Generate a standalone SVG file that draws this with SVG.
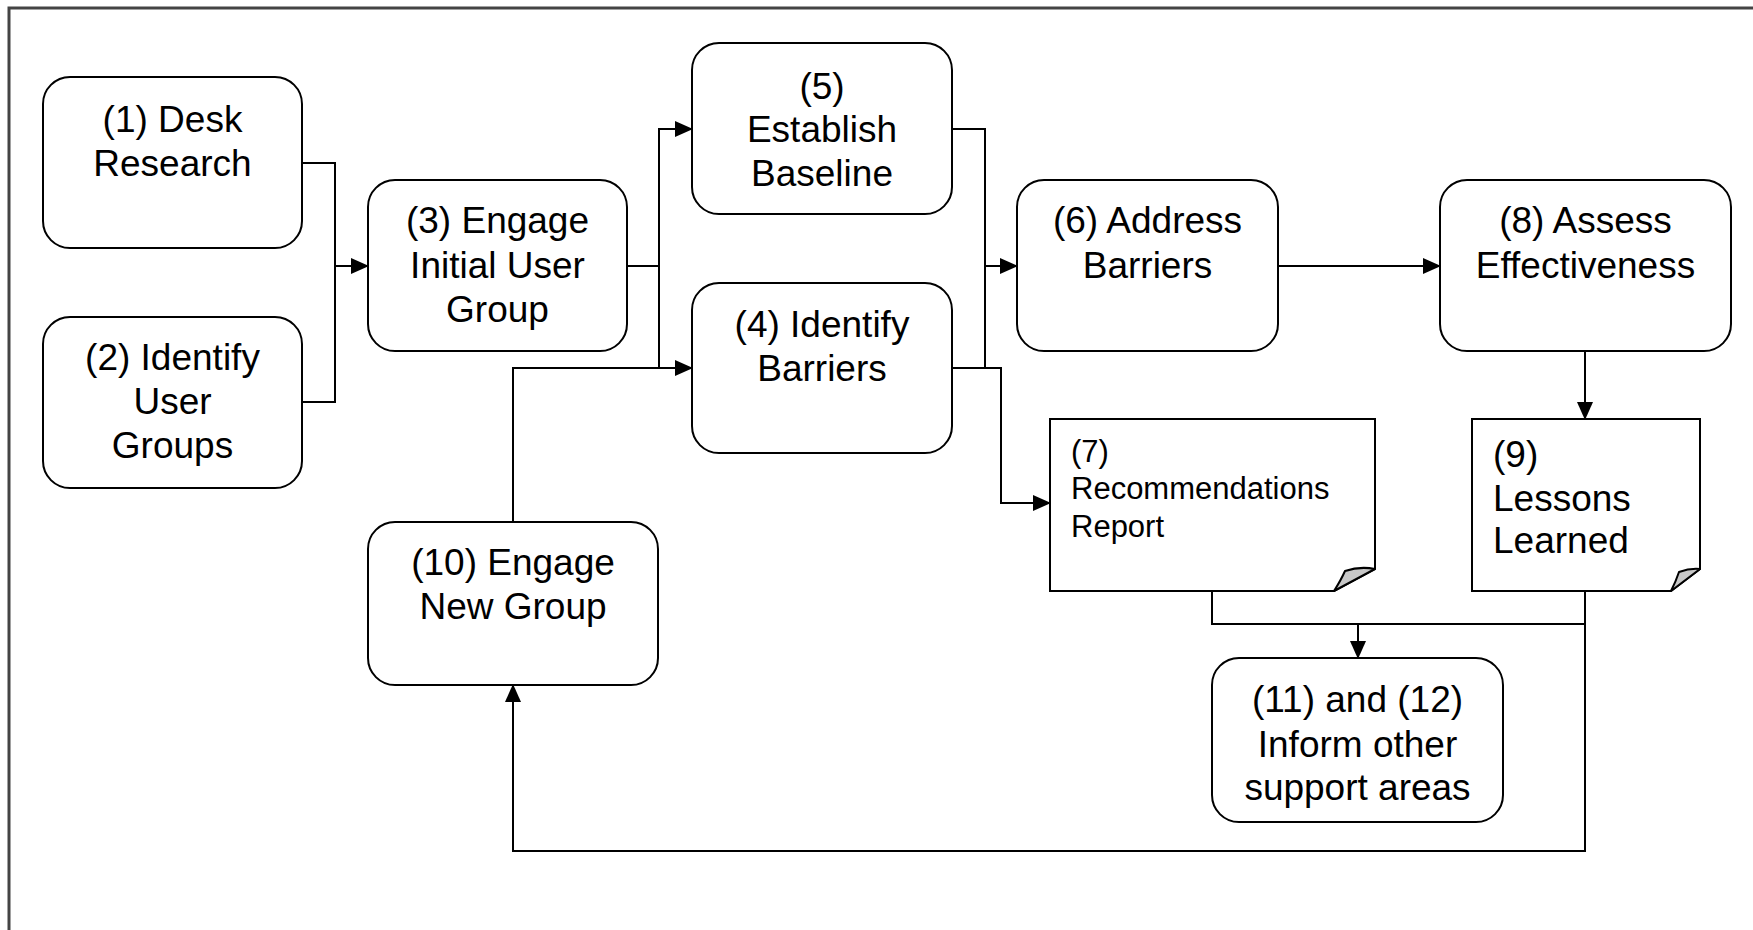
<svg xmlns="http://www.w3.org/2000/svg" width="1753" height="930" viewBox="0 0 1753 930">
<defs>
<marker id="arr" markerUnits="userSpaceOnUse" markerWidth="18" markerHeight="16" refX="17" refY="8" orient="auto">
<path d="M0,0 L18,8 L0,16 Z" fill="#000"/>
</marker>
</defs>
<style>
.box{fill:#fff;stroke:#000;stroke-width:2}
.note{fill:#fff;stroke:#000;stroke-width:2}
.curl{fill:#c8c8c8;stroke:#000;stroke-width:2;stroke-linejoin:round}
.t{font-family:"Liberation Sans",Arial,sans-serif;font-size:37px;fill:#000;text-anchor:middle}
.tl{font-family:"Liberation Sans",Arial,sans-serif;font-size:37px;fill:#000}
.ts{font-family:"Liberation Sans",Arial,sans-serif;font-size:31px;fill:#000}
.c{fill:none;stroke:#000;stroke-width:2}
.ca{fill:none;stroke:#000;stroke-width:2;marker-end:url(#arr)}
</style>
<rect width="1753" height="930" fill="#fff"/>
<g id="frame">
<path d="M9,930 V8 H1753" fill="none" stroke="#444" stroke-width="3"/>
</g>
<g id="connectors">
<path class="c" d="M302,163 H335 V402 H302"/>
<path class="ca" d="M335,266 H368"/>
<path class="c" d="M627,266 H659"/>
<path class="ca" d="M659,266 V129 H692"/>
<path class="ca" d="M513,522 V368 H692"/>
<path class="c" d="M659,266 V368"/>
<path class="c" d="M952,129 H985 V368 H952"/>
<path class="ca" d="M985,266 H1017"/>
<path class="ca" d="M985,368 H1001 V503 H1050"/>
<path class="ca" d="M1278,266 H1440"/>
<path class="ca" d="M1585,351 V419"/>
<path class="c" d="M1212,590 V624 H1585"/>
<path class="ca" d="M1358,624 V658"/>
<path class="ca" d="M1585,590 V851 H513 V685"/>
</g>
<g id="n1">
<rect class="box" x="43" y="77" width="259" height="171" rx="27"/>
<text class="t" x="172.5" y="132">(1) Desk</text>
<text class="t" x="172.5" y="176">Research</text>
</g>
<g id="n2">
<rect class="box" x="43" y="317" width="259" height="171" rx="27"/>
<text class="t" x="172.5" y="370">(2) Identify</text>
<text class="t" x="172.5" y="414">User</text>
<text class="t" x="172.5" y="458">Groups</text>
</g>
<g id="n3">
<rect class="box" x="368" y="180" width="259" height="171" rx="27"/>
<text class="t" x="497.5" y="233">(3) Engage</text>
<text class="t" x="497.5" y="278">Initial User</text>
<text class="t" x="497.5" y="322">Group</text>
</g>
<g id="n5">
<rect class="box" x="692" y="43" width="260" height="171" rx="27"/>
<text class="t" x="822" y="99">(5)</text>
<text class="t" x="822" y="142">Establish</text>
<text class="t" x="822" y="186">Baseline</text>
</g>
<g id="n4">
<rect class="box" x="692" y="283" width="260" height="170" rx="27"/>
<text class="t" x="822" y="337">(4) Identify</text>
<text class="t" x="822" y="381">Barriers</text>
</g>
<g id="n6">
<rect class="box" x="1017" y="180" width="261" height="171" rx="27"/>
<text class="t" x="1147.5" y="233">(6) Address</text>
<text class="t" x="1147.5" y="278">Barriers</text>
</g>
<g id="n8">
<rect class="box" x="1440" y="180" width="291" height="171" rx="27"/>
<text class="t" x="1585.5" y="233">(8) Assess</text>
<text class="t" x="1585.5" y="278">Effectiveness</text>
</g>
<g id="n7">
<path class="note" d="M1050,419 H1375 V569 L1334,591 H1050 Z"/>
<path class="curl" d="M1334,591 L1375,569 Q1360,566 1345,571 Q1341,580 1334,591 Z"/>
<text class="ts" x="1071" y="462">(7)</text>
<text class="ts" x="1071" y="499">Recommendations</text>
<text class="ts" x="1071" y="537">Report</text>
</g>
<g id="n9">
<path class="note" d="M1472,419 H1700 V569 L1671,591 H1472 Z"/>
<path class="curl" d="M1671,591 L1700,569 Q1690,568 1679,572 Q1676,581 1671,591 Z"/>
<text class="tl" x="1493" y="467">(9)</text>
<text class="tl" x="1493" y="511">Lessons</text>
<text class="tl" x="1493" y="553">Learned</text>
</g>
<g id="n10">
<rect class="box" x="368" y="522" width="290" height="163" rx="27"/>
<text class="t" x="513" y="575">(10) Engage</text>
<text class="t" x="513" y="619">New Group</text>
</g>
<g id="n11">
<rect class="box" x="1212" y="658" width="291" height="164" rx="27"/>
<text class="t" x="1357.5" y="712">(11) and (12)</text>
<text class="t" x="1357.5" y="757">Inform other</text>
<text class="t" x="1357.5" y="800">support areas</text>
</g>
</svg>
